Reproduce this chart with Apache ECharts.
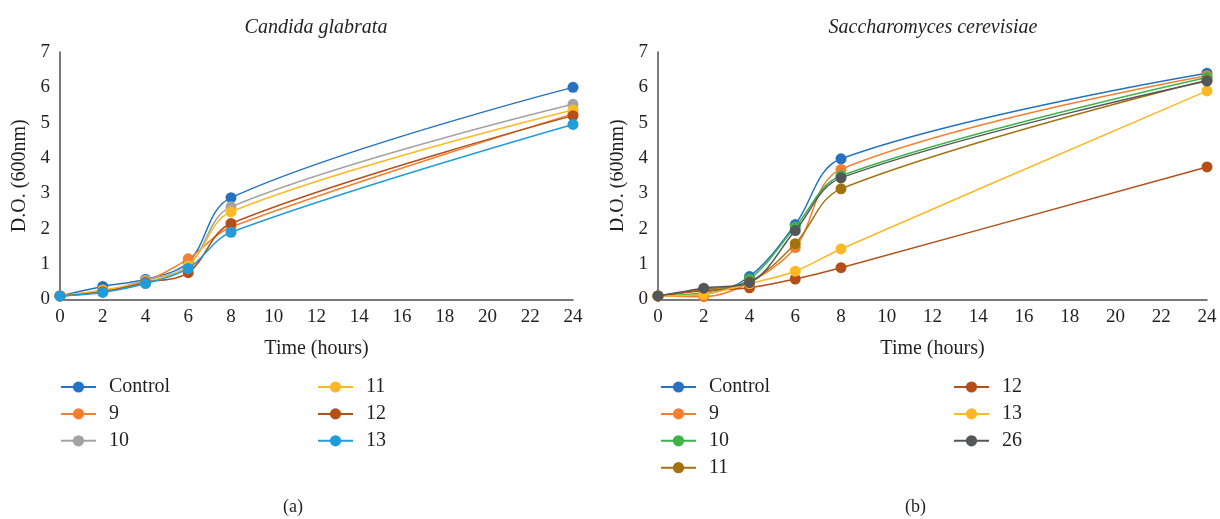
<!DOCTYPE html>
<html>
<head>
<meta charset="utf-8">
<script src="https://cdn.jsdelivr.net/npm/echarts@6/dist/echarts.min.js"></script>
<style>
html,body{margin:0;padding:0;background:#fff;}
#wrap{position:relative;width:1220px;height:519px;}
#ca{position:absolute;left:0;top:0;width:610px;height:519px;}
#cb{position:absolute;left:610px;top:0;width:610px;height:519px;}
</style>
</head>
<body>
<div id="wrap"><div id="ca"></div><div id="cb"></div></div>
<script>
// ---- data ----
const hours = [0, 2, 4, 6, 8, 24];
const xTicks = [0, 2, 4, 6, 8, 10, 12, 14, 16, 18, 20, 22, 24];
const yTicks = [0, 1, 2, 3, 4, 5, 6, 7];

// (a) Candida glabrata
const namesA = ['Control', '9', '10', '11', '12', '13'];
const controlA = [0.10, 0.37, 0.57, 1.05, 2.88, 6.00];
const s9A      = [0.10, 0.25, 0.52, 1.15, 2.05, 5.25];
const s10A     = [0.10, 0.23, 0.55, 0.95, 2.62, 5.52];
const s11A     = [0.10, 0.27, 0.50, 0.95, 2.48, 5.36];
const s12A     = [0.10, 0.22, 0.48, 0.76, 2.15, 5.20];
const s13A     = [0.10, 0.20, 0.45, 0.88, 1.90, 4.95];

// (b) Saccharomyces cerevisiae
const namesB = ['Control', '9', '10', '11', '12', '13', '26'];
const controlB = [0.10, 0.15, 0.65, 2.12, 3.98, 6.40];
const s9B      = [0.10, 0.08, 0.48, 1.47, 3.68, 6.33];
const s10B     = [0.10, 0.20, 0.58, 2.05, 3.50, 6.28];
const s11B     = [0.10, 0.28, 0.50, 1.58, 3.13, 6.20];
const s12B     = [0.10, 0.25, 0.33, 0.58, 0.90, 3.75];
const s13B     = [0.10, 0.15, 0.45, 0.80, 1.43, 5.90];
const s26B     = [0.10, 0.32, 0.48, 1.95, 3.44, 6.18];

const colorsA = ['#2472C0', '#F47F2E', '#A3A3A3', '#FDB825', '#B44F1A', '#209CDA'];
const colorsB = ['#2472C0', '#F47F2E', '#3DB34A', '#A2720E', '#B44F1A', '#FDB825', '#545759'];

const FONT = '"Liberation Serif", "DejaVu Serif", serif';
const TXT = '#231F20';

function pairs(vals){ return hours.map((h, i) => [h, vals[i]]); }

function buildOption(cfg){
  const series = cfg.names.map((n, i) => ({
    name: n,
    type: 'line',
    data: pairs(cfg.values[i]),
    smooth: 0.35,
    symbol: 'circle',
    symbolSize: 11,
    showSymbol: true,
    color: cfg.colors[i],
    lineStyle: { width: 1.5, color: cfg.colors[i] },
    itemStyle: { color: cfg.colors[i] },
    emphasis: { disabled: true },
    z: 2 + i
  }));
  const legendBase = {
    orient: 'vertical',
    padding: 0,
    itemWidth: 35,
    itemHeight: 14,
    itemGap: 6.9,
    textStyle: { fontFamily: FONT, fontSize: 20, color: TXT, padding: [0, 0, 0, 8] },
    selectedMode: false
  };
  return {
    animation: false,
    backgroundColor: '#fff',
    title: {
      text: cfg.title,
      left: cfg.titleCenter, top: 18,
      textAlign: 'center',
      padding: 0,
      textStyle: { fontFamily: FONT, fontStyle: 'italic', fontWeight: 'normal', fontSize: 20, color: TXT }
    },
    grid: { left: cfg.gridLeft, right: cfg.gridRight, top: 52, height: 247.5, containLabel: false, outerBoundsMode: 'none' },
    xAxis: {
      type: 'value', min: xTicks[0], max: xTicks[xTicks.length - 1], interval: 2,
      name: 'Time (hours)', nameLocation: 'middle', nameGap: 39,
      nameTextStyle: { fontFamily: FONT, fontSize: 20, color: TXT },
      axisLine: { show: true, lineStyle: { color: '#4d4d4d', width: 1.5 } },
      axisTick: { show: false },
      splitLine: { show: false },
      axisLabel: { fontFamily: FONT, fontSize: 19, color: TXT, margin: 8 }
    },
    yAxis: {
      type: 'value', min: yTicks[0], max: yTicks[yTicks.length - 1], interval: 1,
      name: 'D.O. (600nm)', nameLocation: 'middle', nameGap: 27, nameRotate: 90,
      nameTextStyle: { fontFamily: FONT, fontSize: 20, color: TXT },
      axisLine: { show: true, lineStyle: { color: '#4d4d4d', width: 1.5 } },
      axisTick: { show: false },
      splitLine: { show: false },
      axisLabel: { fontFamily: FONT, fontSize: 19, color: TXT, margin: 10 }
    },
    legend: cfg.legendCols.map(col => Object.assign({}, legendBase, {
      data: col.data, left: col.left, top: 377
    })),
    graphic: [{
      type: 'text', left: cfg.captionX, top: 498,
      style: { text: cfg.caption, font: '18px ' + FONT, fill: TXT, textAlign: 'center' }
    }],
    series: series
  };
}

const chartA = echarts.init(document.getElementById('ca'), null, { renderer: 'canvas' });
chartA.setOption(buildOption({
  title: 'Candida glabrata', titleCenter: 316,
  names: namesA, colors: colorsA,
  values: [controlA, s9A, s10A, s11A, s12A, s13A],
  gridLeft: 60, gridRight: 37,
  legendCols: [ { data: namesA.slice(0, 3), left: 60 }, { data: namesA.slice(3), left: 317 } ],
  caption: '(a)', captionX: 283
}));

const chartB = echarts.init(document.getElementById('cb'), null, { renderer: 'canvas' });
chartB.setOption(buildOption({
  title: 'Saccharomyces cerevisiae', titleCenter: 323,
  names: namesB, colors: colorsB,
  values: [controlB, s9B, s10B, s11B, s12B, s13B, s26B],
  gridLeft: 48, gridRight: 13,
  legendCols: [ { data: namesB.slice(0, 4), left: 50 }, { data: namesB.slice(4), left: 343 } ],
  caption: '(b)', captionX: 295
}));
</script>
</body>
</html>
